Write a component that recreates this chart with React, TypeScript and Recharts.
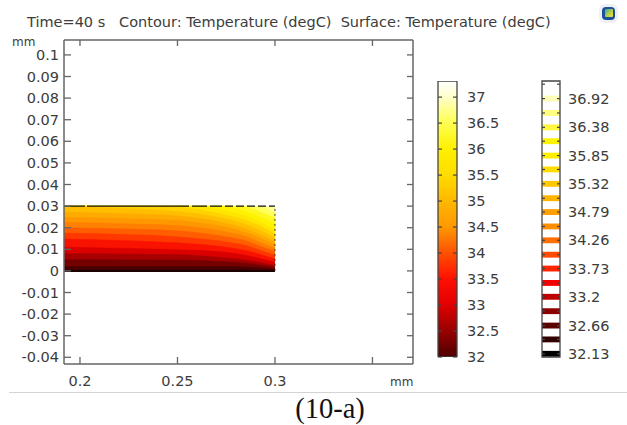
import React from "react";
import { ComposedChart, Area, Line, Bar, XAxis, YAxis, ReferenceArea, ReferenceLine } from "recharts";

const FONT = "'DejaVu Sans', sans-serif";
const INK = "#3c3c3c";
const FRAME = "#666666";

// Main plot axes (mm)
const xTicks = [0.2, 0.25, 0.3, 0.35];
const xTickLabels = ["0.2", "0.25", "0.3", ""];
const yTicks = [0.1, 0.09, 0.08, 0.07, 0.06, 0.05, 0.04, 0.03, 0.02, 0.01, 0, -0.01, -0.02, -0.03, -0.04];

// Isotherm heights (mm) at these x positions (mm)
const xSamples = [0.1918, 0.225, 0.25, 0.265, 0.275, 0.285, 0.293, 0.3];
const iso3213 = [0, 0, 0, 0, 0, 0, 0, 0];
const iso3240 = [0.0003, 0.0003, 0.0003, 0.0003, 0.0003, 0.0003, 0.0002, 0.0002];
const iso3266 = [0.002, 0.002, 0.002, 0.002, 0.002, 0.0018, 0.0013, 0.0008];
const iso3293 = [0.0052, 0.0051, 0.005, 0.0047, 0.0042, 0.0035, 0.0026, 0.0017];
const iso3320 = [0.008, 0.0078, 0.0075, 0.0068, 0.006, 0.0051, 0.0038, 0.0026];
const iso3346 = [0.011, 0.0104, 0.0098, 0.0093, 0.0086, 0.0072, 0.0056, 0.004];
const iso3373 = [0.0148, 0.014, 0.013, 0.012, 0.011, 0.0095, 0.0075, 0.0055];
const iso3399 = [0.0175, 0.0168, 0.0158, 0.0146, 0.0134, 0.0118, 0.0094, 0.0072];
const iso3426 = [0.02, 0.0194, 0.0186, 0.0172, 0.0158, 0.014, 0.0113, 0.009];
const iso3452 = [0.0225, 0.0218, 0.021, 0.0196, 0.018, 0.016, 0.013, 0.0105];
const iso3479 = [0.0248, 0.0242, 0.0234, 0.0218, 0.0202, 0.0178, 0.015, 0.012];
const iso3505 = [0.0272, 0.0265, 0.0255, 0.0238, 0.022, 0.0195, 0.0165, 0.0135];
const iso3532 = [0.0297, 0.0288, 0.0275, 0.0258, 0.024, 0.0215, 0.0185, 0.0152];
const iso3559 = [0.03, 0.03, 0.0295, 0.0277, 0.0258, 0.0235, 0.0205, 0.017];
const iso3585 = [0.03, 0.03, 0.03, 0.0295, 0.0278, 0.0255, 0.0225, 0.019];
const iso3612 = [0.03, 0.03, 0.03, 0.03, 0.0297, 0.0275, 0.0248, 0.0215];
const iso3638 = [0.03, 0.03, 0.03, 0.03, 0.03, 0.0295, 0.0272, 0.0245];
const iso3665 = [0.03, 0.03, 0.03, 0.03, 0.03, 0.03, 0.0295, 0.027];
const iso3692 = [0.03, 0.03, 0.03, 0.03, 0.03, 0.03, 0.03, 0.0293];
const topEdge = [0.03, 0.03, 0.03, 0.03, 0.03, 0.03, 0.03, 0.03];

const isotherms = [iso3240, iso3266, iso3293, iso3320, iso3346, iso3373, iso3399, iso3426, iso3452, iso3479, iso3505, iso3532, iso3559, iso3585, iso3612, iso3638, iso3665, iso3692];
const bandColors = ["#200000", "#480000", "#740000", "#a60000", "#da0000", "#fa1200", "#ff3800", "#ff5e00", "#ff8000", "#ff9800", "#ffaa00", "#ffbe00", "#ffd200", "#ffe600", "#fff200", "#fff820", "#ffff60", "#ffff9c"];
const topBandColor = "#ffffdc";

const fieldRows = xSamples.map((x, i) => {
  const row: Record<string, number> = { x, top: topEdge[i], base: iso3213[i] };
  isotherms.forEach((arr, k) => { row["k" + k] = arr[i]; });
  return row;
});
const bandOrder = isotherms.map((_, k) => k).reverse();

// Continuous colour bar
const barTicks = [37, 36.5, 36, 35.5, 35, 34.5, 34, 33.5, 33, 32.5, 32];
const barRange = [32, 37.31];
const barStops = [
  { t: 32, c: "#500000" },
  { t: 33, c: "#e00000" },
  { t: 33.5, c: "#ff1000" },
  { t: 34, c: "#ff5000" },
  { t: 34.5, c: "#ff9800" },
  { t: 35, c: "#ffb800" },
  { t: 35.5, c: "#ffdc00" },
  { t: 36, c: "#fff000" },
  { t: 36.5, c: "#ffff50" },
  { t: 37, c: "#ffffc8" },
  { t: 37.31, c: "#ffffff" },
];
const barRows = [{ name: "T", range: barRange }];

// Contour level legend
const levels = [32.13, 32.4, 32.66, 32.93, 33.2, 33.46, 33.73, 33.99, 34.26, 34.52, 34.79, 35.05, 35.32, 35.59, 35.85, 36.12, 36.38, 36.65, 36.92, 37.19];
const levelLabels = ["32.13", "", "32.66", "", "33.2", "", "33.73", "", "34.26", "", "34.79", "", "35.32", "", "35.85", "", "36.38", "", "36.92", ""];
const levelColors = ["#000000", "#300000", "#5c0000", "#8c0000", "#c00000", "#f40000", "#ff2400", "#ff4c00", "#ff7000", "#ff8e00", "#ffa000", "#ffb400", "#ffc800", "#ffdc00", "#ffee00", "#fff400", "#fff640", "#ffff80", "#ffffb8", "#ffffff"];
const levelDomain = [32.07, 37.25];
const levelRows = [{ x: 0 }, { x: 1 }];

const textProps = { fontFamily: FONT, fontSize: 14.5, fill: INK };

const LeftTick = ({ x, y, payload }: any) => (
  <g>
    <line x1={x} x2={x + 7} y1={y} y2={y} stroke={FRAME} strokeWidth={1.3} />
    <text x={x - 5} y={y} textAnchor="end" dominantBaseline="central" {...textProps}>{String(payload.value)}</text>
  </g>
);
const RightTick = ({ x, y }: any) => <line x1={x} x2={x - 6} y1={y} y2={y} stroke={FRAME} strokeWidth={1.3} />;
const TopTick = ({ x, y }: any) => <line x1={x} x2={x} y1={y} y2={y + 6} stroke={FRAME} strokeWidth={1.3} />;
const BottomTick = ({ x, y, payload }: any) => (
  <g>
    <line x1={x} x2={x} y1={y} y2={y - 7} stroke={FRAME} strokeWidth={1.3} />
    <text x={x} y={y + 17} textAnchor="middle" dominantBaseline="central" {...textProps}>
      {xTickLabels[xTicks.indexOf(payload.value)]}
    </text>
  </g>
);
const BarTick = ({ x, y, payload }: any) => (
  <g>
    <line x1={x - 19} x2={x - 15} y1={y} y2={y} stroke="#444" strokeWidth={1.2} />
    <line x1={x - 4} x2={x} y1={y} y2={y} stroke="#444" strokeWidth={1.2} />
    <text x={x + 10} y={y} dominantBaseline="central" {...textProps}>{String(payload.value)}</text>
  </g>
);
const LevelTick = ({ x, y, payload }: any) => (
  <g>
    <line x1={x - 18} x2={x - 15} y1={y} y2={y} stroke="#444" strokeWidth={1.2} />
    <line x1={x - 3} x2={x} y1={y} y2={y} stroke="#444" strokeWidth={1.2} />
    <text x={x + 8} y={y} dominantBaseline="central" {...textProps}>{levelLabels[levels.indexOf(payload.value)]}</text>
  </g>
);

const abs = (left: number, top: number, extra: any = {}) => ({ position: "absolute" as const, left, top, ...extra });

export default function App() {
  return (
    <div style={abs(0, 0, { width: 627, height: 425, background: "#fff", overflow: "hidden" })}>
      <div style={abs(0, 0)}>
        <ComposedChart width={627} height={425} data={fieldRows} margin={{ left: 0, right: 0, top: 0, bottom: 0 }}>
          <XAxis dataKey="x" type="number" domain={[0.1918, 0.3708]} allowDataOverflow ticks={xTicks} interval={0} orientation="bottom" height={61} tickSize={0} tickMargin={0} tickLine={false} tick={BottomTick} stroke={FRAME} strokeWidth={1.5} />
          <XAxis xAxisId="top" dataKey="x" type="number" domain={[0.1918, 0.3708]} allowDataOverflow ticks={xTicks} interval={0} orientation="top" height={40} tickSize={0} tickMargin={0} tickLine={false} tick={TopTick} stroke={FRAME} strokeWidth={1.5} />
          <YAxis type="number" domain={[-0.0431, 0.1069]} allowDataOverflow ticks={yTicks} interval={0} orientation="left" width={64} tickSize={0} tickMargin={0} tickLine={false} tick={LeftTick} stroke={FRAME} strokeWidth={1.5} />
          <YAxis yAxisId="right" type="number" domain={[-0.0431, 0.1069]} allowDataOverflow ticks={yTicks} interval={0} orientation="right" width={214} tickSize={0} tickMargin={0} tickLine={false} tick={RightTick} stroke={FRAME} strokeWidth={1.5} />
          <Area dataKey="top" type="linear" baseValue={0} fill={topBandColor} fillOpacity={1} stroke="none" isAnimationActive={false} dot={false} activeDot={false} />
          {bandOrder.map((k) => (
            <Area key={k} dataKey={"k" + k} type="monotone" baseValue={0} fill={bandColors[k]} fillOpacity={1} stroke={bandColors[k]} strokeWidth={0.5} isAnimationActive={false} dot={false} activeDot={false} />
          ))}
          <Line dataKey="base" type="linear" stroke="#1a0000" strokeWidth={2} dot={false} activeDot={false} isAnimationActive={false} />
          <Line dataKey="top" type="linear" stroke="#111" strokeWidth={1.2} strokeDasharray="21 2 102 3 15 3 12 3 8 3 8 3 8 3 8 3" dot={false} activeDot={false} isAnimationActive={false} />
          <ReferenceLine segment={[{ x: 0.3, y: 0 }, { x: 0.3, y: 0.03 }]} stroke="#333" strokeWidth={1} strokeDasharray="2 3" />
        </ComposedChart>
      </div>

      <div style={abs(430, 70)}>
        <ComposedChart width={70} height={300} data={barRows} margin={{ left: 8, right: 0, top: 11, bottom: 13 }} barCategoryGap={0}>
          <defs>
            <linearGradient id="heat" x1="0" y1="1" x2="0" y2="0">
              {barStops.map((s) => (
                <stop key={s.t} offset={(s.t - barRange[0]) / (barRange[1] - barRange[0])} stopColor={s.c} />
              ))}
            </linearGradient>
          </defs>
          <XAxis dataKey="name" hide />
          <YAxis type="number" domain={barRange} allowDataOverflow ticks={barTicks} interval={0} orientation="right" width={43} tickSize={0} tickMargin={0} tickLine={false} axisLine={false} tick={BarTick} />
          <Bar dataKey="range" fill="url(#heat)" stroke="#444" strokeWidth={1.3} isAnimationActive={false} />
        </ComposedChart>
      </div>

      <div style={abs(530, 70)}>
        <ComposedChart width={90} height={300} data={levelRows} margin={{ left: 12, right: 0, top: 11, bottom: 13 }}>
          <XAxis dataKey="x" type="number" domain={[0, 1]} hide />
          <YAxis type="number" domain={levelDomain} allowDataOverflow ticks={levels} interval={0} orientation="right" width={60} tickSize={0} tickMargin={0} tickLine={false} axisLine={false} tick={LevelTick} />
          {levels.map((t, k) => (
            <ReferenceArea key={t} x1={0} x2={1} y1={t - 0.055} y2={t + 0.055} fill={levelColors[k]} fillOpacity={1} stroke="none" ifOverflow="hidden" />
          ))}
          <ReferenceArea x1={0} x2={1} y1={levelDomain[0]} y2={levelDomain[1]} fill="none" stroke="#444" strokeWidth={1.3} />
        </ComposedChart>
      </div>

      <div style={abs(27, 14, { font: `14.5px ${FONT}`, color: INK, whiteSpace: "pre", lineHeight: "17px" })}>Time=40 s   Contour: Temperature (degC)  Surface: Temperature (degC)</div>
      <div style={abs(12, 35, { font: `12px ${FONT}`, color: INK, lineHeight: "14px" })}>mm</div>
      <div style={abs(390, 375, { font: `12px ${FONT}`, color: INK, lineHeight: "14px" })}>mm</div>
      <div style={abs(9, 392, { width: 618, height: 1, background: "#d4d4d4" })} />
      <div style={abs(0, 393, { width: 660, textAlign: "center", font: "28.5px 'Liberation Serif', serif", color: "#111", lineHeight: "32px" })}>(10-a)</div>
      <div style={abs(599, 4, { width: 19, height: 19, borderRadius: 6, background: "#eef0f4" })}>
        <div style={{ position: "absolute", left: 3, top: 3, width: 13, height: 13, borderRadius: 4, background: "#1c4f9c" }} />
        <div style={{ position: "absolute", left: 6, top: 5, width: 8, height: 8, borderRadius: 1, background: "linear-gradient(135deg,#3aa0a0 0%,#b8d040 55%,#f0e040 100%)" }} />
      </div>
    </div>
  );
}
